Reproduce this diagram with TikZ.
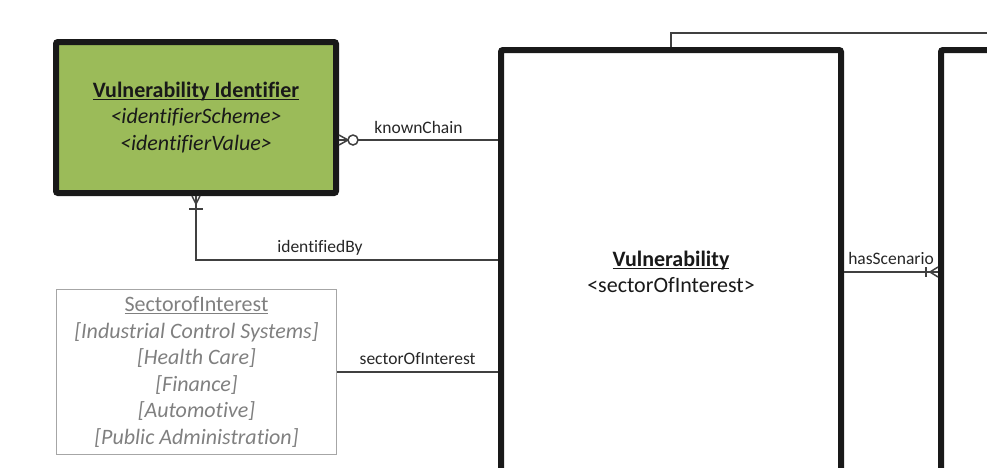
\documentclass[tikz,border=0pt]{standalone}
\usepackage{fontspec}
\setmainfont{Carlito}[Ligatures=NoCommon]
\usetikzlibrary{positioning}
\usetikzlibrary{calc}
\definecolor{idgreen}{HTML}{9BBB59}
\definecolor{relgray}{HTML}{404040}
\newcommand\ulword[1]{\setbox0\hbox{#1}\leavevmode\rlap{\rule[-2.6pt]{\wd0}{1.3pt}}\box0}

\begin{document}
\begin{tikzpicture}[x=1pt, y=-1pt,
                        entity/.style={draw=black!90, line width=6pt, rounded corners=2pt, align=center,
                                       font=\fontsize{22}{26.5}\selectfont, text=black!90},
                        enumbox/.style={draw=black!35, line width=1.3pt, align=center,
                                        font=\fontsize{22}{26.5}\selectfont, text=black!50},
                        rel/.style={draw=relgray, line width=1.5pt},
                        lbl/.style={font=\fontsize{17.5}{20}\selectfont, text=black!85}]

            \path[use as bounding box, clip] (0,0) rectangle (987,467);

            % entities
            \node[entity, fill=idgreen, minimum width=280, minimum height=151] (ident) at (196,117.5)
                {\ulword{\textbf{Vulnerability Identifier}}\\
                 \textit{<identifierScheme>}\\
                 \textit{<identifierValue>}};
            \node[entity, fill=white, minimum width=340, minimum height=444] (vuln) at (671,272)
                {\ulword{\textbf{Vulnerability}}\\ <sectorOfInterest>};
            \node[entity, fill=white, minimum width=318, minimum height=444] (scen) at (1100,272) {};
            \node[enumbox, minimum width=280, minimum height=165] (sector) at (196.5,372)
                {\ulword{SectorofInterest}\\
                 \textit{[Industrial Control Systems]}\\
                 \textit{[Health Care]}\\
                 \textit{[Finance]}\\
                 \textit{[Automotive]}\\
                 \textit{[Public Administration]}};

            % knownChain
            \coordinate (kc) at ([yshift=-22.5pt]ident.east);
            \foreach \d in {-5,0,5}
                \draw[rel] ($(kc)+(0,\d)$) -- ($(kc)+(9,0)$);
            \draw[rel, fill=white] ($(kc)+(14,0)$) circle (5pt);
            \draw[rel] ($(kc)+(19,0)$) -- (kc -| vuln.west);
            \node[lbl, above=3pt] (kclbl) at ($(kc)!0.5!(kc -| vuln.west)$) {knownChain};

            % identifiedBy
            \coordinate (ib) at (0,260);
            \foreach \d in {-4,0,4}
                \draw[rel] ($(ident.south)+(\d,0)$) -- ($(ident.south)+(0,8)$);
            \draw[rel] ($(ident.south)+(-7,13)$) -- ($(ident.south)+(7,13)$);
            \draw[rel] (ident.south) |- (ib -| vuln.west);
            \node[lbl, above=1pt] (iblbl) at (320,260) {identifiedBy};

            % sectorOfInterest
            \draw[rel] (sector.east) -- (sector.east -| vuln.west)
                node[lbl, midway, above=3pt] {sectorOfInterest};

            % hasScenario
            \draw[rel] (vuln.east) -- (scen.west)
                node[lbl, midway, above=3pt] {hasScenario};
            \foreach \d in {-5,0,5}
                \draw[rel] ($(scen.west)+(0,\d)$) -- ($(scen.west)+(-8,0)$);
            \draw[rel] ($(scen.west)+(-12,-5)$) -- ($(scen.west)+(-12,5)$);

            % link to the right
            \coordinate (top) at (1000,33);
            \draw[rel] (vuln.north) |- (top);

        \end{tikzpicture}
\end{document}
